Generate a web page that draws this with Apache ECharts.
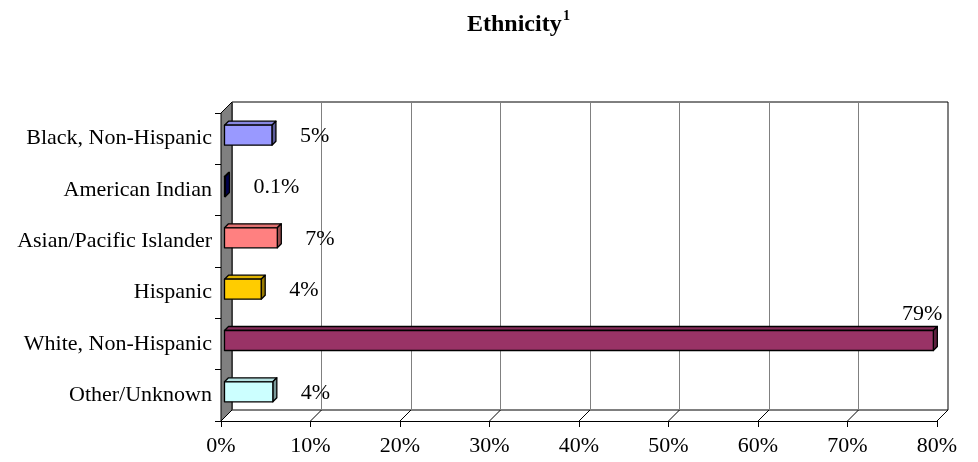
<!DOCTYPE html>
<html>
<head>
<meta charset="utf-8">
<script src="https://cdn.jsdelivr.net/npm/echarts@6/dist/echarts.min.js"></script>
<style>
html,body{margin:0;padding:0;background:#fff;}
#chart{width:978px;height:462px;}
</style>
</head>
<body>
<div id="chart"></div>
<script>
// ---- data ----
const categories = ['Black, Non-Hispanic', 'American Indian', 'Asian/Pacific Islander', 'Hispanic', 'White, Non-Hispanic', 'Other/Unknown'];
const values = [5.3, 0.1, 5.9, 4.1, 79.2, 5.4];
const labelTexts = ['5%', '0.1%', '7%', '4%', '79%', '4%'];
const tickValues = [0, 10, 20, 30, 40, 50, 60, 70, 80];
const titleText = 'Ethnicity';
const titleSup = '1';

// ---- styles ----
const barColors = ['#9999FF', '#000080', '#FF8080', '#FFCC00', '#993366', '#CCFFFF'];
const FONT = '"Liberation Serif", "Times New Roman", serif';
const DEPTH = 11;        // 3D wall depth (px)
const D1 = 3.5, D2 = 7.5; // bar front/back depth
const HALF = 10;          // half bar thickness

function shade(hex, f) {
  const n = parseInt(hex.slice(1), 16);
  const r = Math.round(((n >> 16) & 255) * f), g = Math.round(((n >> 8) & 255) * f), b = Math.round((n & 255) * f);
  return 'rgb(' + r + ',' + g + ',' + b + ')';
}

const chart = echarts.init(document.getElementById('chart'), null, {renderer: 'canvas'});

const barData = values.map((v, i) => [v, i]);

const option = {
  animation: false,
  backgroundColor: '#ffffff',
  title: [
    {text: titleText, left: 462, top: 8, textStyle: {fontFamily: FONT, fontWeight: 'bold', fontSize: 24, color: '#000'}},
    {text: titleSup, left: 558, top: 4, textStyle: {fontFamily: FONT, fontWeight: 'bold', fontSize: 14, color: '#000'}}
  ],
  grid: [
    {left: 221, right: 41, top: 113, bottom: 41, show: false},
    {left: 232, right: 30, top: 102, bottom: 52, show: true, borderColor: '#000', borderWidth: 1, backgroundColor: 'transparent'}
  ],
  xAxis: [
    {
      gridIndex: 0, type: 'value', min: 0, max: 80, interval: 10,
      axisLine: {show: true, lineStyle: {color: '#000', width: 1}},
      axisTick: {show: true, length: 6, lineStyle: {color: '#000'}},
      splitLine: {show: false},
      axisLabel: {formatter: v => v + '%', fontFamily: FONT, fontSize: 22, color: '#000', margin: 14}
    },
    {
      gridIndex: 1, type: 'value', min: 0, max: 80, interval: 10,
      axisLine: {show: false}, axisTick: {show: false}, axisLabel: {show: false},
      splitLine: {show: true, lineStyle: {color: '#808080', width: 1}}
    }
  ],
  yAxis: [
    {
      gridIndex: 0, type: 'category', data: categories, inverse: true,
      axisLine: {show: false},
      axisTick: {show: true, length: 6, lineStyle: {color: '#000'}},
      axisLabel: {fontFamily: FONT, fontSize: 22, color: '#000', margin: 9}
    },
    {
      gridIndex: 1, type: 'category', data: categories, inverse: true,
      axisLine: {show: false}, axisTick: {show: false}, axisLabel: {show: false}, splitLine: {show: false}
    }
  ],
  series: [
    {
      // 3D frame: left wall and floor diagonals, computed from grid coordinate system
      type: 'custom', xAxisIndex: 0, yAxisIndex: 0, z: 1,
      data: tickValues.map(v => [v, 0]),
      renderItem: function (params, api) {
        const cs = params.coordSys;
        const x = api.coord([api.value(0), 0])[0];
        const bottom = cs.y + cs.height;
        const children = [{
          type: 'line',
          shape: {x1: x, y1: bottom, x2: x + DEPTH, y2: bottom - DEPTH},
          style: {stroke: '#000', lineWidth: 1}
        }];
        if (params.dataIndex === 0) {
          children.unshift({
            type: 'polygon',
            shape: {points: [[cs.x, cs.y], [cs.x + DEPTH, cs.y - DEPTH], [cs.x + DEPTH, bottom - DEPTH], [cs.x, bottom]]},
            style: {fill: '#808080', stroke: '#000', lineWidth: 1}
          });
        }
        return {type: 'group', children: children};
      },
      silent: true
    },
    {
      type: 'custom', xAxisIndex: 0, yAxisIndex: 0, z: 3,
      data: barData,
      renderItem: function (params, api) {
        const cs = params.coordSys;
        const idx = api.value(1);
        const v = api.value(0);
        const x0 = api.coord([0, idx])[0];
        const p = api.coord([v, idx]);
        const xv = p[0], yc = p[1];
        const col = barColors[idx];
        const fT = yc - HALF - D1, fB = yc + HALF - D1;
        const bT = yc - HALF - D2, bB = yc + HALF - D2;
        const stroke = {stroke: '#000', lineWidth: 1.3, lineJoin: 'round'};
        const children = [
          {type: 'polygon', shape: {points: [[x0 + D1, fT], [x0 + D2, bT], [xv + D2, bT], [xv + D1, fT]]},
            style: Object.assign({fill: shade(col, 0.88)}, stroke)},
          {type: 'polygon', shape: {points: [[xv + D1, fT], [xv + D2, bT], [xv + D2, bB], [xv + D1, fB]]},
            style: Object.assign({fill: shade(col, 0.6)}, stroke)},
          {type: 'rect', shape: {x: x0 + D1, y: fT, width: Math.max(xv - x0, 0.5), height: fB - fT},
            style: Object.assign({fill: col}, stroke)}
        ];
        const txt = labelTexts[params.dataIndex];
        const estW = txt.length * 11;
        const tx = xv + D2 + 24;
        if (tx + estW > cs.x + cs.width) {
          children.push({type: 'text', style: {text: txt, x: xv + D2 + 5, y: bT - 1, align: 'right', verticalAlign: 'bottom',
            font: '22px ' + FONT, fill: '#000'}});
        } else {
          children.push({type: 'text', style: {text: txt, x: tx, y: yc - D1 + 1, align: 'left', verticalAlign: 'middle',
            font: '22px ' + FONT, fill: '#000'}});
        }
        return {type: 'group', children: children};
      }
    }
  ]
};
chart.setOption(option);
</script>
</body>
</html>
